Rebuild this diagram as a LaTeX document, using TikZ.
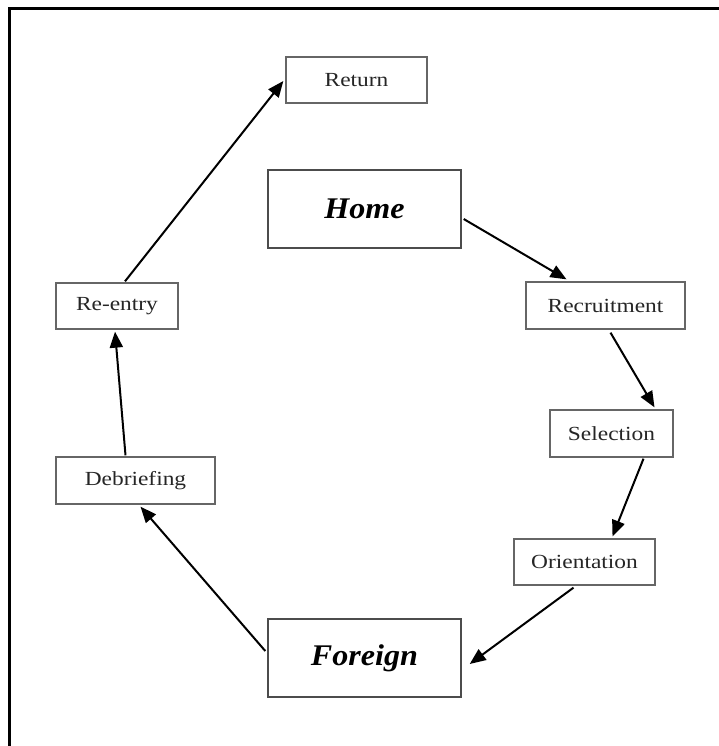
\documentclass[tikz,border=0pt]{standalone}
\usepackage{fontspec}
\setmainfont{Liberation Serif}
\newfontfamily\stagefont[FakeStretch=1.17]{Liberation Serif}
\newfontfamily\placefont[FakeStretch=1.07,BoldItalicFont={Liberation Serif Bold Italic}]{Liberation Serif}
\usetikzlibrary{arrows.meta,calc}
\begin{document}
\begin{tikzpicture}[x=1pt,y=-1pt,
  stage/.style={draw=black!60,line width=1.3pt,fill=white,inner sep=0pt,
    font=\stagefont\fontsize{20}{22}\selectfont,text=black!85},
  place/.style={draw=black!70,line width=1.4pt,fill=white,inner sep=0pt,
    minimum width=193pt,minimum height=78pt,
    font=\placefont\fontsize{30}{32}\selectfont\bfseries\itshape},
  flow/.style={line width=2pt,-{Triangle[length=16pt,width=13pt]}}]
  \useasboundingbox (0,0) rectangle (719,746);
  % frame: top and left rules only
  \draw[line width=3pt] (9,746) -- (9,9) -- (719,9);

  % phase boxes
  \node[place] (home) at (364.5,209) {Home};
  \node[place] (foreign) at (364.5,658) {Foreign};
  \node[stage,minimum width=141pt,minimum height=46pt] (ret) at (356.5,80) {Return};
  \node[stage,minimum width=159pt,minimum height=47pt] (rec) at (605.5,305.5) {Recruitment};
  \node[stage,minimum width=123pt,minimum height=47pt] (sel) at (611.5,433.5) {Selection};
  \node[stage,minimum width=141pt,minimum height=46pt] (ori) at (584.5,562) {Orientation};
  \node[stage,minimum width=159pt,minimum height=47pt] (deb) at (135.5,480.5) {Debriefing};
  \node[stage,minimum width=122pt,minimum height=46pt] (ree) at (117,306) {Re-entry};

  % the cycle
  \draw[flow] ($(home.east)+(2,10)$) -- ($(rec.north)+(-39,-2)$);
  \draw[flow] ($(rec.south)+(5,3)$) -- ($(sel.north)+(43,-2)$);
  \draw[flow] ($(sel.south)+(32,1)$) -- ($(ori.north)+(28,-2)$);
  \draw[flow] ($(ori.south)+(-11,2)$) -- ($(foreign.east)+(8,6)$);
  \draw[flow] ($(foreign.west)+(-2,-7)$) -- ($(deb.south)+(5,2)$);
  \draw[flow] ($(deb.north)+(-10,-1)$) -- ($(ree.south)+(-2,2)$);
  \draw[flow] ($(ree.north)+(8,-1)$) -- ($(ret.west)+(-2,1)$);
\end{tikzpicture}
\end{document}
